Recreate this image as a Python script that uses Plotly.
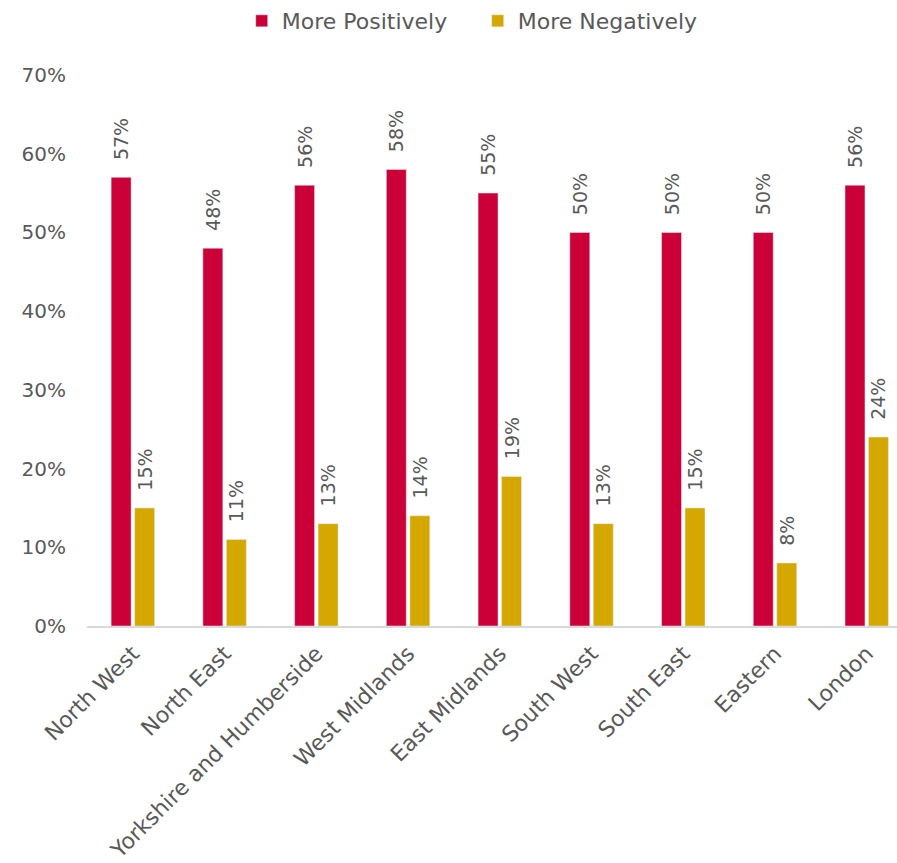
import plotly.graph_objects as go

regions = ["North West", "North East", "Yorkshire and Humberside", "West Midlands",
           "East Midlands", "South West", "South East", "Eastern", "London"]
more_positively = [0.57, 0.48, 0.56, 0.58, 0.55, 0.50, 0.50, 0.50, 0.56]
more_negatively = [0.15, 0.11, 0.13, 0.14, 0.19, 0.13, 0.15, 0.08, 0.24]

FONT = "'DejaVu Sans', sans-serif"
GREY = "#595959"
label_tpl = "\u2002\u2005%{y:.0%}"

fig = go.Figure()
for name, values, colour in [("More Positively", more_positively, "#CC0039"),
                             ("More Negatively", more_negatively, "#D4A800")]:
    fig.add_trace(go.Bar(
        name=name, x=regions, y=values,
        marker=dict(color=colour),
        texttemplate=label_tpl, textposition="outside", textangle=-90,
        constraintext="none",
        textfont=dict(family=FONT, size=19, color=GREY), cliponaxis=False,
    ))

fig.update_layout(
    width=897, height=863,
    margin=dict(l=87, r=0, t=75, b=237),
    paper_bgcolor="white", plot_bgcolor="white",
    barmode="group", bargap=0.488, bargroupgap=0.15,
    font=dict(family=FONT, size=20, color=GREY),
    showlegend=True,
    legend=dict(orientation="h", x=0.191, xanchor="left", y=1.0, yanchor="top",
                yref="container", font=dict(size=22, color=GREY), itemwidth=30,
                entrywidth=191, traceorder="normal"),
)
fig.update_xaxes(range=[-0.5, 8.33], showgrid=False, showline=True, linecolor="#D9D9D9",
                 linewidth=2, ticks="", tickangle=-45, ticklabelstandoff=4,
                 tickfont=dict(size=22, color=GREY))
fig.update_yaxes(range=[0, 0.7], dtick=0.1, tickformat=".0%", showgrid=False,
                 zeroline=False, showline=False, ticks="", ticklabelstandoff=20,
                 tickfont=dict(size=20, color=GREY))

fig.write_html("out.html")
